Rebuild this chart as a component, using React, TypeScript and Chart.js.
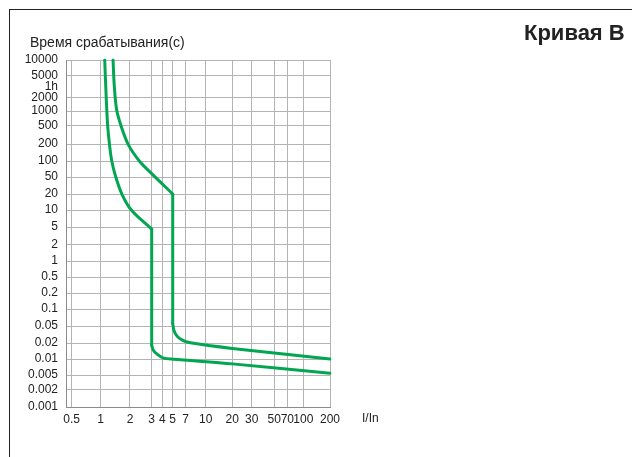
import React, { useEffect, useRef } from 'react';
import { Chart, Scale, registerables } from 'chart.js';

// ---------- data ----------
const xTickValues = [0.5, 1, 2, 3, 4, 5, 7, 10, 20, 30, 50, 70, 100, 200];
const yTickValues = [10000, 5000, 3600, 2000, 1000, 500, 200, 100, 50, 20, 10, 5, 2, 1, 0.5, 0.2, 0.1, 0.05, 0.02, 0.01, 0.005, 0.002, 0.001];

// lower curve: I/In and time (s), split into thermal part, instant drop, and magnetic tail
const lowerThermalI = [1.1, 1.14, 1.18, 1.23, 1.3, 1.42, 1.65, 2.05, 3.0];
const lowerThermalT = [10000, 2000, 500, 200, 100, 52, 20, 10, 4.5];
const lowerDropI = [3.0, 3.0];
const lowerDropT = [4.5, 0.018];
const lowerTailI = [3.0, 3.15, 3.5, 4.1, 5.1, 20, 200];
const lowerTailT = [0.018, 0.0145, 0.0122, 0.0104, 0.0099, 0.0081, 0.0054];

// upper curve
const upperThermalI = [1.34, 1.38, 1.46, 1.62, 1.92, 2.4, 3.0, 5.0];
const upperThermalT = [10000, 3700, 1050, 500, 195, 98, 58, 20];
const upperDropI = [5.0, 5.0];
const upperDropT = [20, 0.056];
const upperTailI = [5.0, 5.15, 5.6, 6.4, 7.6, 20, 200];
const upperTailT = [0.056, 0.04, 0.029, 0.0233, 0.0202, 0.0158, 0.01];

// ---------- scale geometry (hand-drawn, non-uniform grid) ----------
const xStopValues = [0.44, 0.5, 1, 2, 3, 4, 5, 7, 10, 20, 30, 50, 70, 100, 200];
const xStopFractions = [0, 0.0216, 0.1314, 0.2424, 0.3246, 0.3648, 0.4042, 0.4534, 0.5292, 0.6299, 0.7034, 0.789, 0.8383, 0.8989, 1];
const yStopValues = [0.001, 0.002, 0.005, 0.01, 0.02, 0.05, 0.1, 0.2, 0.5, 1, 2, 5, 10, 20, 50, 100, 200, 500, 1000, 2000, 3600, 5000, 10000];
const yStopFractions = [0, 0.049, 0.0922, 0.1383, 0.1844, 0.2334, 0.2824, 0.3285, 0.3746, 0.4207, 0.4669, 0.5187, 0.5677, 0.6138, 0.6628, 0.7089, 0.7579, 0.8098, 0.853, 0.8905, 0.9222, 0.9539, 1];

const STOPS: Record<string, { v: number[]; f: number[] }> = {
  x: { v: xStopValues, f: xStopFractions },
  y: { v: yStopValues, f: yStopFractions },
};
const TICKS: Record<string, number[]> = { x: xTickValues, y: yTickValues };

class PiecewiseLogScale extends (Scale as any) {
  static id = 'piecewiseLog';
  static defaults = {};
  stops() {
    return STOPS[(this as any).id];
  }
  determineDataLimits() {
    const s = this.stops();
    (this as any).min = s.v[0];
    (this as any).max = s.v[s.v.length - 1];
  }
  buildTicks() {
    return TICKS[(this as any).id].map((value) => ({ value }));
  }
  getLabelForValue(value: number) {
    return String(value);
  }
  toDecimal(value: number) {
    const { v, f } = this.stops();
    const lv = Math.log10(value);
    let i = 0;
    while (i < v.length - 2 && value > v[i + 1]) i++;
    const a = Math.log10(v[i]);
    const b = Math.log10(v[i + 1]);
    const t = (lv - a) / (b - a);
    return f[i] + t * (f[i + 1] - f[i]);
  }
  getPixelForValue(value: number) {
    return (this as any).getPixelForDecimal(this.toDecimal(value));
  }
  getValueForPixel(pixel: number) {
    const d = (this as any).getDecimalForPixel(pixel);
    const { v, f } = this.stops();
    let i = 0;
    while (i < f.length - 2 && d > f[i + 1]) i++;
    const t = (d - f[i]) / (f[i + 1] - f[i]);
    return Math.pow(10, Math.log10(v[i]) + t * (Math.log10(v[i + 1]) - Math.log10(v[i])));
  }
}

Chart.register(...registerables, PiecewiseLogScale as any);

const GREEN = '#00a651';
const GRID = '#b3b3b3';
const FONT = "'Liberation Sans', Arial, sans-serif";

export default function App() {
  const ref = useRef<HTMLCanvasElement>(null);
  useEffect(() => {
    if (!ref.current) return;
    Chart.defaults.font.family = FONT;
    const toPts = (xs: number[], ys: number[]) => xs.map((x, i) => ({ x, y: ys[i] }));
    const line = (xs: number[], ys: number[], tension: number) => ({
      data: toPts(xs, ys),
      borderColor: GREEN,
      borderWidth: 3,
      pointRadius: 0,
      tension,
      fill: false,
      borderCapStyle: 'round' as const,
      borderJoinStyle: 'round' as const,
    });
    const chart = new Chart(ref.current, {
      type: 'line',
      data: {
        datasets: [
          line(lowerThermalI, lowerThermalT, 0.35),
          line(lowerDropI, lowerDropT, 0),
          line(lowerTailI, lowerTailT, 0.3),
          line(upperThermalI, upperThermalT, 0.35),
          line(upperDropI, upperDropT, 0),
          line(upperTailI, upperTailT, 0.3),
        ],
      },
      options: {
        responsive: false,
        animation: false,
        events: [],
        layout: { padding: { left: 0, top: 60, right: 302, bottom: 0 } },
        plugins: { legend: { display: false }, tooltip: { enabled: false }, title: { display: false } },
        scales: {
          x: {
            type: 'piecewiseLog' as any,
            position: 'bottom',
            afterFit: (s: any) => { s.height = 50; },
            grid: { color: GRID, lineWidth: 1, drawTicks: false },
            border: { display: true, color: '#8c8c8c', width: 1 },
            ticks: { autoSkip: false, maxRotation: 0, padding: 5, color: '#222', font: { size: 12, family: FONT } },
          } as any,
          y: {
            type: 'piecewiseLog' as any,
            position: 'left',
            afterFit: (s: any) => { s.width = 66; },
            grid: {
              color: (ctx: any) => (ctx.tick && ctx.tick.value === 3600 ? 'rgba(0,0,0,0)' : GRID),
              lineWidth: 1,
              drawTicks: false,
            },
            border: { display: true, color: '#8c8c8c', width: 1 },
            ticks: {
              autoSkip: false,
              padding: 8,
              color: '#222',
              font: { size: 12, family: FONT },
              callback: (v: any) => (v === 3600 ? '1h' : String(v)),
            },
          } as any,
        },
      },
    });
    return () => chart.destroy();
  }, []);

  return (
    <div style={{ position: 'fixed', left: 0, top: 0, width: 632, height: 457, overflow: 'hidden', background: '#fff' }}>
      <div style={{ position: 'absolute', left: 9, top: 9, width: 700, height: 500, borderLeft: '1.5px solid #222', borderTop: '1.5px solid #222' }} />
      <canvas ref={ref} width={632} height={457} style={{ position: 'absolute', left: 0, top: 0 }} />
      <div style={{ position: 'absolute', left: 30, top: 33, fontFamily: FONT, fontSize: 14, lineHeight: '18px', color: '#222', whiteSpace: 'nowrap' }}>
        Время срабатывания(с)
      </div>
      <div style={{ position: 'absolute', left: 524, top: 20, fontFamily: FONT, fontSize: 22, fontWeight: 'bold', lineHeight: '26px', color: '#222', whiteSpace: 'nowrap' }}>
        Кривая B
      </div>
      <div style={{ position: 'absolute', left: 362, top: 411, fontFamily: FONT, fontSize: 12, lineHeight: '14px', color: '#222', whiteSpace: 'nowrap' }}>
        I/In
      </div>
    </div>
  );
}
